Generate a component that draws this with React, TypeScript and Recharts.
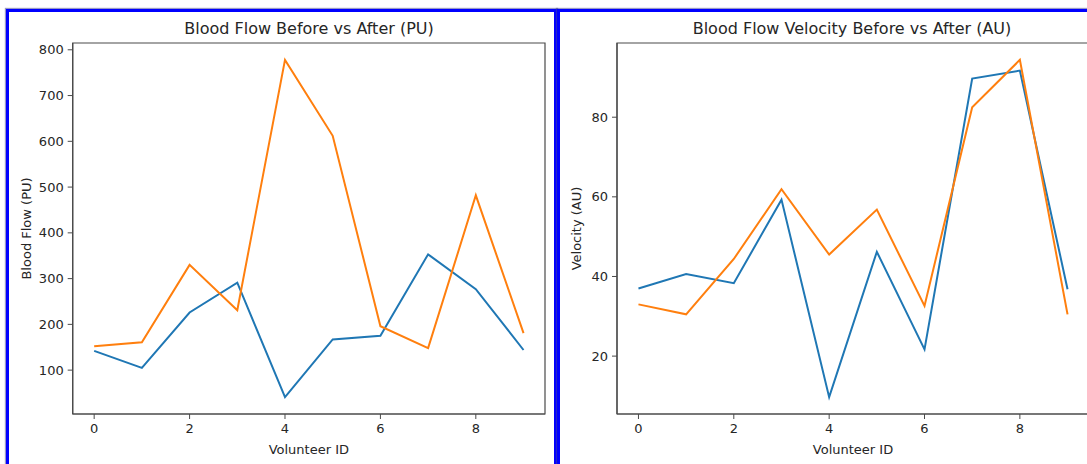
import React from 'react';
import { LineChart, Line, XAxis, YAxis, ReferenceArea, Label } from 'recharts';

// Volunteer IDs on the x axis
const volunteerIds = [0, 1, 2, 3, 4, 5, 6, 7, 8, 9];
const xTicks = [0, 2, 4, 6, 8];

// Blood flow (PU)
const flowBefore = [142, 105, 226, 291, 41, 167, 175, 353, 277, 144];
const flowAfter = [152, 161, 330, 231, 778, 612, 196, 148, 482, 181];
const flowTicks = [100, 200, 300, 400, 500, 600, 700, 800];

// Blood flow velocity (AU)
const velocityBefore = [37.0, 40.6, 38.3, 59.3, 9.7, 46.2, 21.7, 89.7, 91.7, 36.8];
const velocityAfter = [33.0, 30.5, 44.4, 61.9, 45.5, 56.8, 32.6, 82.5, 94.4, 30.5];
const velocityTicks = [20, 40, 60, 80];

const BLUE = '#1f77b4';
const ORANGE = '#ff7f0e';
const FONT = '"DejaVu Sans", Verdana, sans-serif';
const TEXT = '#262626';
const SPINE = '#4a4a4a';

// matplotlib-style autoscale: data range padded by 5% on each side
const pad = (vals: number[]): [number, number] => {
  const lo = Math.min(...vals);
  const hi = Math.max(...vals);
  const m = (hi - lo) * 0.05;
  return [lo - m, hi + m];
};

const xDomain = pad(volunteerIds);

const build = (before: number[], after: number[]) =>
  volunteerIds.map((id, i) => ({ id, before: before[i], after: after[i] }));

const flowData = build(flowBefore, flowAfter);
const velocityData = build(velocityBefore, velocityAfter);

type PanelProps = {
  data: { id: number; before: number; after: number }[];
  yDomain: [number, number];
  yTicks: number[];
  yLabel: string;
  yAxisWidth: number;
  marginLeft: number;
  marginRight: number;
};

const tickStyle = { fill: TEXT, fontSize: 13, fontFamily: FONT };
const labelStyle = { fill: TEXT, fontSize: 13, fontFamily: FONT };

function Panel({ data, yDomain, yTicks, yLabel, yAxisWidth, marginLeft, marginRight }: PanelProps) {
  return (
    <LineChart
      width={560}
      height={464}
      data={data}
      margin={{ top: 43, right: marginRight, bottom: 8, left: marginLeft }}
    >
      <XAxis
        dataKey="id"
        type="number"
        domain={xDomain}
        ticks={xTicks}
        allowDataOverflow
        height={42}
        tickSize={5}
        tickMargin={5}
        tick={tickStyle}
        stroke={SPINE}
        axisLine={{ stroke: SPINE, strokeWidth: 1.2 }}
        tickLine={{ stroke: SPINE, strokeWidth: 1 }}
      >
        <Label value="Volunteer ID" position="insideBottom" offset={2} style={labelStyle} />
      </XAxis>
      <YAxis
        type="number"
        domain={yDomain}
        ticks={yTicks}
        allowDataOverflow
        width={yAxisWidth}
        tickSize={5}
        tickMargin={4}
        tick={tickStyle}
        stroke={SPINE}
        axisLine={{ stroke: SPINE, strokeWidth: 1.2 }}
        tickLine={{ stroke: SPINE, strokeWidth: 1 }}
      >
        <Label
          value={yLabel}
          angle={-90}
          position="insideLeft"
          offset={4}
          style={{ ...labelStyle, textAnchor: 'middle' }}
        />
      </YAxis>
      <ReferenceArea
        x1={xDomain[0]}
        x2={xDomain[1]}
        y1={yDomain[0]}
        y2={yDomain[1]}
        fill="none"
        fillOpacity={0}
        stroke={SPINE}
        strokeWidth={1.2}
        ifOverflow="visible"
      />
      <Line
        type="linear"
        dataKey="before"
        stroke={BLUE}
        strokeWidth={2}
        dot={false}
        activeDot={false}
        isAnimationActive={false}
      />
      <Line
        type="linear"
        dataKey="after"
        stroke={ORANGE}
        strokeWidth={2}
        dot={false}
        activeDot={false}
        isAnimationActive={false}
      />
    </LineChart>
  );
}

const titleStyle: React.CSSProperties = {
  position: 'absolute',
  top: 19,
  fontFamily: FONT,
  fontSize: 16,
  color: TEXT,
  whiteSpace: 'nowrap',
  transform: 'translateX(-50%)',
  lineHeight: '20px',
};

const frameStyle: React.CSSProperties = {
  position: 'absolute',
  border: '3px solid #0000ff',
  boxShadow: '0 0 1px 1px rgba(70,70,150,0.55)',
  boxSizing: 'border-box',
  pointerEvents: 'none',
};

export default function App() {
  return (
    <div
      style={{
        position: 'fixed',
        left: 0,
        top: 0,
        width: 1087,
        height: 464,
        overflow: 'hidden',
        background: '#ffffff',
      }}
    >
      <div style={{ position: 'absolute', left: 0, top: 0 }}>
        <Panel
          data={flowData}
          yDomain={pad([...flowBefore, ...flowAfter])}
          yTicks={flowTicks}
          yLabel="Blood Flow (PU)"
          yAxisWidth={50}
          marginLeft={22.7}
          marginRight={15}
        />
      </div>
      <div style={{ position: 'absolute', left: 560, top: 0 }}>
        <Panel
          data={velocityData}
          yDomain={pad([...velocityBefore, ...velocityAfter])}
          yTicks={velocityTicks}
          yLabel="Velocity (AU)"
          yAxisWidth={45}
          marginLeft={12}
          marginRight={31}
        />
      </div>
      <div style={{ ...titleStyle, left: 309 }}>Blood Flow Before vs After (PU)</div>
      <div style={{ ...titleStyle, left: 852 }}>Blood Flow Velocity Before vs After (AU)</div>
      <div style={{ ...frameStyle, left: 6, top: 9, width: 551, height: 480 }} />
      <div style={{ ...frameStyle, left: 557, top: 9, width: 600, height: 480 }} />
    </div>
  );
}
